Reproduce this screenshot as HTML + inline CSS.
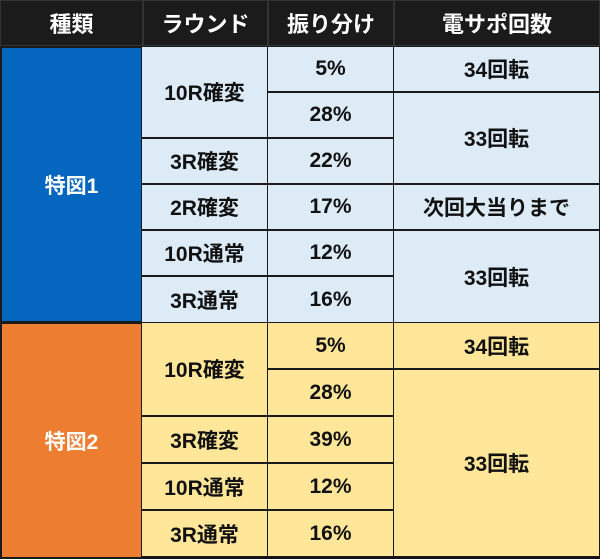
<!DOCTYPE html>
<html><head><meta charset="utf-8"><style>
body{margin:0;width:600px;height:559px;background:#fff;overflow:hidden;font-family:"Liberation Sans","Noto Sans CJK JP",sans-serif;font-weight:bold}
#t{position:relative;width:600px;height:559px;background:#111}
.c{position:absolute;box-sizing:border-box;display:flex;align-items:center;justify-content:center;font-size:21px;color:#111;border:1px solid #1a1a1a}
.h{color:#fff;background:#1b1b1b;border:1px solid #333;font-size:22px}
.b{background:#0566c0;color:#fff;border:2px solid #1a1a1a}
.o{background:#ed7d31;color:#fff;border:2px solid #1a1a1a}
.lb{background:#ddebf7}
.ly{background:#ffe699}
</style></head><body>
<div id="t">
<div class="c h" style="left:0;top:0;width:143px;height:46px">種類</div>
<div class="c h" style="left:143px;top:0;width:125px;height:46px">ラウンド</div>
<div class="c h" style="left:268px;top:0;width:126px;height:46px">振り分け</div>
<div class="c h" style="left:394px;top:0;width:206px;height:46px">電サポ回数</div>

<div class="c b" style="left:0;top:46px;width:143px;height:277px">特図1</div>
<div class="c lb" style="left:141px;top:46px;width:127px;height:92px">10R確変</div>
<div class="c lb" style="left:141px;top:138px;width:127px;height:46px">3R確変</div>
<div class="c lb" style="left:141px;top:184px;width:127px;height:46px">2R確変</div>
<div class="c lb" style="left:141px;top:230px;width:127px;height:46px">10R通常</div>
<div class="c lb" style="left:141px;top:276px;width:127px;height:47px">3R通常</div>
<div class="c lb" style="left:267px;top:46px;width:127px;height:46px">5%</div>
<div class="c lb" style="left:267px;top:92px;width:127px;height:46px">28%</div>
<div class="c lb" style="left:267px;top:138px;width:127px;height:46px">22%</div>
<div class="c lb" style="left:267px;top:184px;width:127px;height:46px">17%</div>
<div class="c lb" style="left:267px;top:230px;width:127px;height:46px">12%</div>
<div class="c lb" style="left:267px;top:276px;width:127px;height:47px">16%</div>
<div class="c lb" style="left:393px;top:46px;width:207px;height:46px">34回転</div>
<div class="c lb" style="left:393px;top:92px;width:207px;height:92px">33回転</div>
<div class="c lb" style="left:393px;top:184px;width:207px;height:46px">次回大当りまで</div>
<div class="c lb" style="left:393px;top:230px;width:207px;height:93px">33回転</div>

<div class="c o" style="left:0;top:322px;width:143px;height:237px">特図2</div>
<div class="c ly" style="left:141px;top:322px;width:127px;height:94px">10R確変</div>
<div class="c ly" style="left:141px;top:416px;width:127px;height:47px">3R確変</div>
<div class="c ly" style="left:141px;top:463px;width:127px;height:47px">10R通常</div>
<div class="c ly" style="left:141px;top:510px;width:127px;height:47px">3R通常</div>
<div class="c ly" style="left:267px;top:322px;width:127px;height:47px">5%</div>
<div class="c ly" style="left:267px;top:369px;width:127px;height:47px">28%</div>
<div class="c ly" style="left:267px;top:416px;width:127px;height:47px">39%</div>
<div class="c ly" style="left:267px;top:463px;width:127px;height:47px">12%</div>
<div class="c ly" style="left:267px;top:510px;width:127px;height:47px">16%</div>
<div class="c ly" style="left:393px;top:322px;width:207px;height:47px">34回転</div>
<div class="c ly" style="left:393px;top:369px;width:207px;height:188px">33回転</div>
</div>
</body></html>
